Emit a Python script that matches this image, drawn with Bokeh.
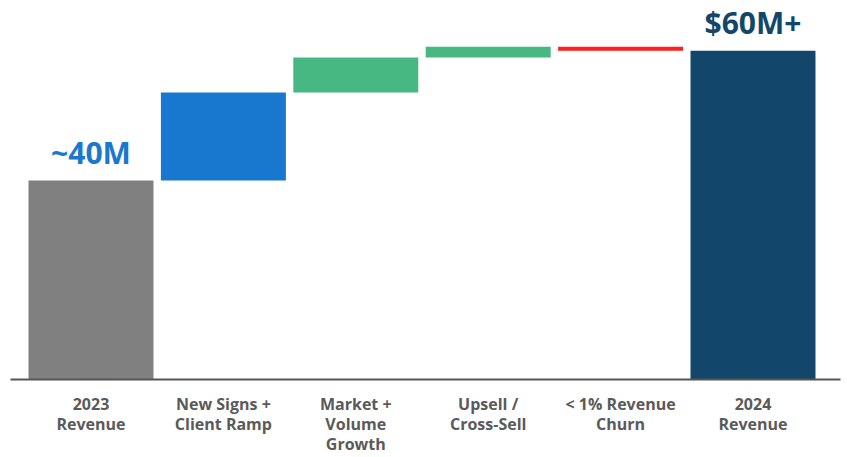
from bokeh.plotting import figure
from bokeh.models import ColumnDataSource, Range1d, FixedTicker
from bokeh.core.properties import value
from bokeh.embed import file_html
from bokeh.resources import INLINE

categories = ["2023\nRevenue", "New Signs +\nClient Ramp", "Market +\nVolume\nGrowth",
              "Upsell /\nCross-Sell", "< 1% Revenue\nChurn", "2024\nRevenue"]
steps = [40.0, 17.7, 7.0, 2.2, -0.8, 66.1]
kinds = ["total", "delta", "delta", "delta", "delta", "total"]
colors = ["#808080", "#1878cf", "#48b883", "#48b883", "#ff1f1f", "#12466b"]
value_labels = ["~40M", "", "", "", "", "$60M+"]
label_colors = ["#1a78cf", "#1a78cf", "#1a78cf", "#1a78cf", "#1a78cf", "#13476a"]

xs = list(range(len(categories)))
bottoms, tops = [], []
run = 0.0
for s, k in zip(steps, kinds):
    if k == "total":
        b, t = 0.0, s
        run = s
    else:
        b, t = run, run + s
        run = t
    bottoms.append(min(b, t))
    tops.append(max(b, t))

src = ColumnDataSource(dict(x=xs, bottom=bottoms, top=tops, color=colors))

Y_MAX = 76.18
FRAME_H = 379
p = figure(width=847, height=457, output_backend="svg", toolbar_location=None,
           x_range=Range1d(-0.608, 5.661), y_range=Range1d(0, Y_MAX),
           min_border_left=10, min_border_right=7, min_border_top=0, min_border_bottom=78)
p.outline_line_color = None
p.grid.visible = False
p.background_fill_color = "white"
p.border_fill_color = "white"

p.vbar(x="x", bottom="bottom", top="top", width=0.944, fill_color="color",
       line_color=None, source=src)

gap = 28 * Y_MAX / FRAME_H  # label centre 28 px above the bar, in data units
lab_x = [x for x, l in zip(xs, value_labels) if l]
lab_y = [t + gap for t, l in zip(tops, value_labels) if l]
lab_t = [l for l in value_labels if l]
lab_c = [c for c, l in zip(label_colors, value_labels) if l]
p.text(x=lab_x, y=lab_y, text=lab_t, text_color=lab_c, text_align="center",
       text_baseline="middle", text_font=value("Open Sans"),
       text_font_style="bold", text_font_size="30px")

p.yaxis.visible = False
xa = p.xaxis[0]
xa.ticker = FixedTicker(ticks=xs)
xa.major_label_overrides = {i: c for i, c in enumerate(categories)}
xa.major_tick_line_color = None
xa.minor_tick_line_color = None
xa.axis_line_color = "#555555"
xa.axis_line_width = 2
xa.major_label_standoff = 7
xa.major_label_text_font = "Open Sans"
xa.major_label_text_font_style = "bold"
xa.major_label_text_font_size = "16px"
xa.major_label_text_color = "#5a5a5a"
xa.major_label_text_line_height = 0.92

open("out.html", "w").write(file_html(p, INLINE))
